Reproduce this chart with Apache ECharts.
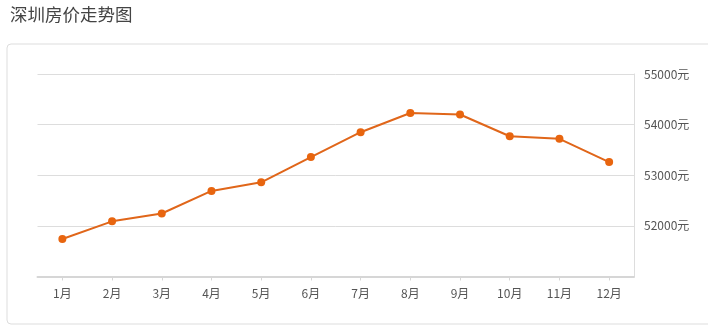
<!DOCTYPE html>
<html><head><meta charset="utf-8">
<script src="https://cdn.jsdelivr.net/npm/echarts@6/dist/echarts.min.js"></script>
<style>html,body{margin:0;padding:0;background:#fff;}#c{width:708px;height:327px;}</style>
</head><body><div id="c"></div>
<script>
const title = '深圳房价走势图';
const months = ['1月','2月','3月','4月','5月','6月','7月','8月','9月','10月','11月','12月'];
const prices = [51740, 52090, 52245, 52690, 52860, 53360, 53850, 54230, 54200, 53770, 53720, 53260];
const yMin = 51000, yMax = 55000, yStep = 1000;
const unit = '元';

const chart = echarts.init(document.getElementById('c'), null, {renderer:'canvas'});
const font = '"Noto Sans CJK SC", sans-serif';
chart.setOption({
  animation: false,
  backgroundColor: '#fff',
  title: {text: title, left: 5, top: 1, textStyle: {fontFamily: font, fontSize: 17.5, fontWeight: 'normal', color: '#444'}},
  graphic: [{type: 'rect', left: 6.5, top: 43.5, shape: {width: 720, height: 280, r: 4}, style: {fill: '#fff', stroke: '#ddd', lineWidth: 1}, z: -10}],
  grid: {left: 37.5, right: 74, top: 74, bottom: 50.5},
  xAxis: {
    type: 'category', data: months, boundaryGap: true,
    axisLine: {lineStyle: {color: '#d6d6d6', width: 2}},
    axisTick: {show: true, alignWithLabel: true, length: 4, lineStyle: {color: '#d6d6d6'}},
    axisLabel: {fontFamily: font, fontSize: 12, color: '#555', margin: 11}
  },
  yAxis: {
    type: 'value', position: 'right', min: yMin, max: yMax, interval: yStep,
    axisLine: {show: true, lineStyle: {color: '#ddd'}},
    axisTick: {show: false},
    splitLine: {lineStyle: {color: '#ddd'}},
    axisLabel: {fontFamily: font, fontSize: 12, color: '#555', margin: 10,
      formatter: v => v === yMin ? '' : v + unit}
  },
  series: [{
    type: 'line', data: prices, symbol: 'circle', symbolSize: 8,
    lineStyle: {color: '#e0661a', width: 2},
    itemStyle: {color: '#e8650f'}
  }]
});
</script></body></html>
